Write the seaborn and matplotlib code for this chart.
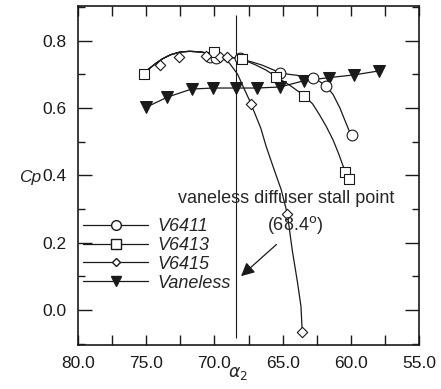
import numpy as np
import pandas as pd
import matplotlib
matplotlib.use('Agg')
import matplotlib.pyplot as plt
import seaborn as sns
from matplotlib.lines import Line2D
from matplotlib.ticker import MultipleLocator, FormatStrFormatter

# measured points (alpha2, Cp)
a_v6411 = [70.3, 69.9, 68.1, 65.2, 62.8, 61.8, 59.9]
cp_v6411 = [0.752, 0.748, 0.748, 0.705, 0.688, 0.664, 0.52]
a_v6413 = [75.2, 70.0, 68.0, 65.5, 63.4, 60.4, 60.1]
cp_v6413 = [0.70, 0.765, 0.746, 0.693, 0.636, 0.411, 0.388]
a_v6415 = [74.0, 72.6, 70.6, 69.6, 69.1, 67.3, 64.7, 63.6]
cp_v6415 = [0.728, 0.75, 0.755, 0.75, 0.75, 0.611, 0.285, -0.066]
a_vaneless = [75.0, 73.45, 71.67, 70.08, 68.42, 66.9, 65.19, 63.4, 61.57, 59.74, 57.91]
cp_vaneless = [0.602, 0.632, 0.656, 0.659, 0.659, 0.659, 0.662, 0.681, 0.69, 0.698, 0.71]

# fitted curves
fit_a_6411 = [75.2, 74.8, 74.3, 73.8, 73.2, 72.5, 71.8, 71.0, 70.3, 69.5, 68.8, 68.1, 67.3, 66.5, 65.8,
              65.2, 64.6, 64.0, 63.4, 62.8, 62.3, 61.8, 61.3, 60.8, 60.4, 60.0]
fit_cp_6411 = [0.70, 0.716, 0.732, 0.746, 0.758, 0.766, 0.768, 0.766, 0.761, 0.755, 0.750, 0.745, 0.737, 0.727, 0.715,
               0.705, 0.70, 0.697, 0.693, 0.688, 0.679, 0.664, 0.64, 0.60, 0.56, 0.52]
fit_a_6413 = [75.2, 74.8, 74.3, 73.8, 73.2, 72.5, 71.8, 71.0, 70.3, 69.5, 68.8, 68.0, 67.0, 66.2, 65.5,
              64.5, 63.4, 62.8, 62.3, 61.8, 61.3, 60.9, 60.55, 60.3, 60.1]
fit_cp_6413 = [0.70, 0.716, 0.732, 0.746, 0.758, 0.766, 0.768, 0.766, 0.761, 0.755, 0.750, 0.745, 0.728, 0.712, 0.693,
               0.668, 0.636, 0.612, 0.58, 0.545, 0.505, 0.465, 0.426, 0.40, 0.388]
fit_a_6415 = [75.2, 74.8, 74.3, 73.8, 73.2, 72.5, 71.8, 71.0, 70.3, 69.6, 68.9, 68.3, 67.9, 67.4, 67.0,
              66.6, 66.2, 65.7, 65.1, 64.65, 64.3, 63.9, 63.65, 63.56]
fit_cp_6415 = [0.70, 0.716, 0.732, 0.746, 0.758, 0.766, 0.768, 0.766, 0.761, 0.752, 0.733, 0.70, 0.664, 0.62, 0.58,
               0.54, 0.485, 0.426, 0.357, 0.285, 0.18, 0.08, 0.01, -0.066]

stall_alpha = 68.4
series_names = ['V6411', 'V6413', 'V6415', 'Vaneless']

sns.set_theme(style='ticks')
plt.rcParams['font.family'] = ['Liberation Sans', 'DejaVu Sans']
plt.rcParams['font.size'] = 12

fig = plt.figure(figsize=(4.41, 3.89), dpi=100)
ax = fig.add_axes([0.177, 0.113, 0.773, 0.872])

lw = 0.9
sns.lineplot(x=fit_a_6411, y=fit_cp_6411, sort=False, estimator=None, color='k', lw=lw, ax=ax)
sns.lineplot(x=fit_a_6413, y=fit_cp_6413, sort=False, estimator=None, color='k', lw=lw, ax=ax)
sns.lineplot(x=fit_a_6415, y=fit_cp_6415, sort=False, estimator=None, color='k', lw=lw, ax=ax)
sns.lineplot(x=a_vaneless, y=cp_vaneless, sort=False, estimator=None, color='k', lw=lw, ax=ax,
             marker='v', markersize=8, markeredgecolor='k', markerfacecolor='k')

sns.scatterplot(x=a_v6411, y=cp_v6411, marker='o', s=60, facecolor='white', edgecolor='k', linewidth=0.8, ax=ax, zorder=3)
sns.scatterplot(x=a_v6413, y=cp_v6413, marker='s', s=52, facecolor='white', edgecolor='k', linewidth=0.8, ax=ax, zorder=3)
sns.scatterplot(x=a_v6415, y=cp_v6415, marker='D', s=28, facecolor='white', edgecolor='k', linewidth=0.8, ax=ax, zorder=3)

ax.vlines(stall_alpha, -0.083, 0.875, color='k', lw=0.8)
ax.text(64.75, 0.33, 'vaneless diffuser stall point', ha='center', va='center', fontsize=13)
ax.text(64.1, 0.253, '(68.4$^{\\mathrm{o}}$)', ha='center', va='center', fontsize=13)
ax.annotate('', xy=(68.2, 0.095), xytext=(65.3, 0.2),
            arrowprops=dict(arrowstyle='-|>', color='k', lw=0.9, mutation_scale=20))

ax.set_xlim(80, 55)
ax.set_ylim(-0.104, 0.903)
ax.xaxis.set_major_locator(MultipleLocator(5))
ax.xaxis.set_minor_locator(MultipleLocator(2.5))
ax.xaxis.set_major_formatter(FormatStrFormatter('%.1f'))
ax.yaxis.set_major_locator(MultipleLocator(0.2))
ax.yaxis.set_minor_locator(MultipleLocator(0.1))
ax.yaxis.set_major_formatter(FormatStrFormatter('%.1f'))
ax.tick_params(axis='both', which='both', direction='in', top=True, right=True, colors='k', labelsize=12.5)
ax.tick_params(axis='x', which='both', length=7, width=1, pad=8)
ax.tick_params(axis='y', which='major', length=10, width=1, pad=8)
ax.tick_params(axis='y', which='minor', length=5, width=1)
for s in ax.spines.values():
    s.set_linewidth(1.2)
    s.set_color('k')

ax.set_ylabel('Cp', fontstyle='italic', fontsize=12.5, rotation=0, va='center', ha='center')
ax.yaxis.set_label_coords(-0.14, 0.495)
ax.set_xlabel('$\\alpha_2$', fontsize=12.5, va='center')
ax.xaxis.set_label_coords(0.47, -0.085)

handles = [
    Line2D([], [], color='k', lw=lw, marker='o', mfc='white', mec='k', ms=7),
    Line2D([], [], color='k', lw=lw, marker='s', mfc='white', mec='k', ms=6.5),
    Line2D([], [], color='k', lw=lw, marker='D', mfc='white', mec='k', ms=4.5),
    Line2D([], [], color='k', lw=lw, marker='v', mfc='k', mec='k', ms=7),
]
leg = ax.legend(handles, series_names, loc='upper left', bbox_to_anchor=(0.0, 0.39),
                frameon=False, handlelength=3.6, handletextpad=0.5, labelspacing=0.1,
                borderpad=0, borderaxespad=0.3, prop={'style': 'italic', 'size': 13})

fig.savefig('out.png', dpi=100)
